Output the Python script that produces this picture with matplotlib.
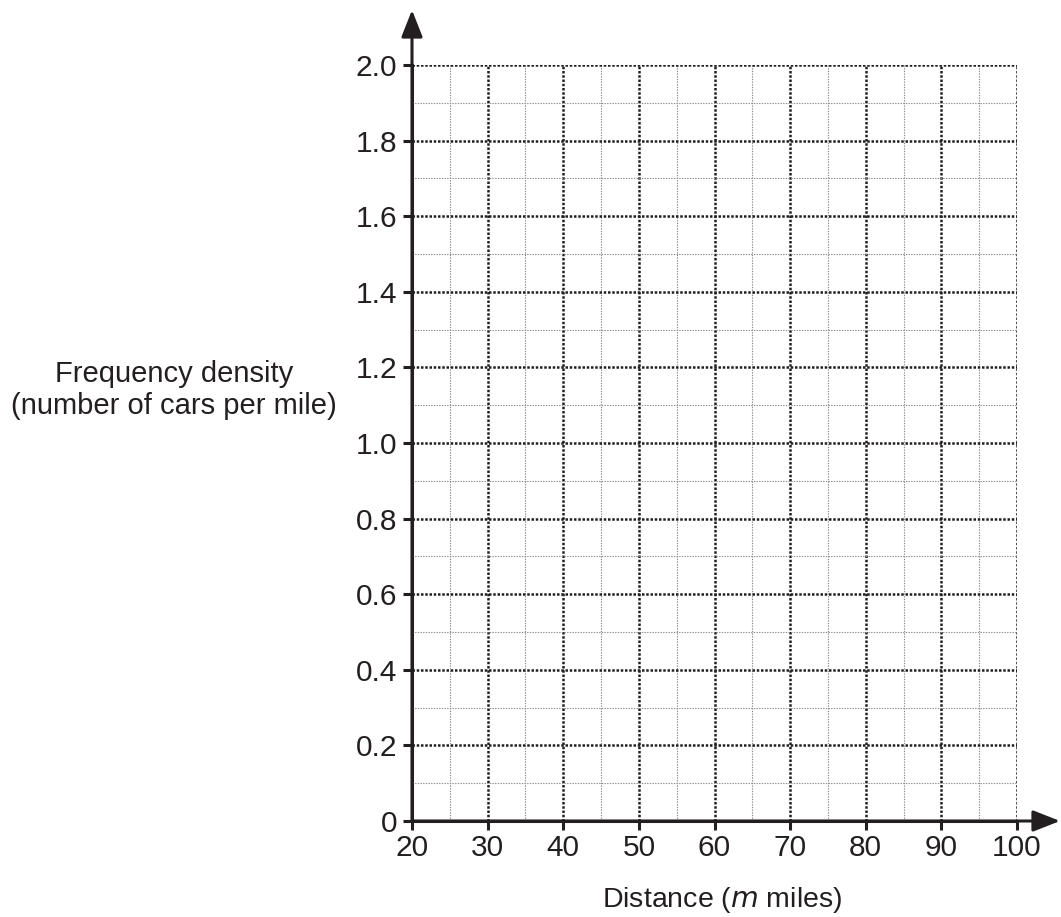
import matplotlib
matplotlib.use("Agg")
import matplotlib.pyplot as plt
import numpy as np
from matplotlib.ticker import MultipleLocator

plt.rcParams['font.family'] = ['Liberation Sans', 'DejaVu Sans']

x_min, x_max = 20, 100
y_min, y_max = 0, 2.0
x_ticks = [20, 30, 40, 50, 60, 70, 80, 90, 100]
x_tick_labels = ['20', '30', '40', '50', '60', '70', '80', '90', '100']
y_ticks = [0, 0.2, 0.4, 0.6, 0.8, 1.0, 1.2, 1.4, 1.6, 1.8, 2.0]
y_tick_labels = ['0', '0.2', '0.4', '0.6', '0.8', '1.0', '1.2', '1.4', '1.6', '1.8', '2.0']
x_label = 'Distance ($\\it{m}$ miles)'
y_label = 'Frequency density\n(number of cars per mile)'

W, H = 1061, 917
fig = plt.figure(figsize=(W/100, H/100), dpi=100)
left, right, bottom, top = 412, 1017, 821, 65
ax = fig.add_axes([left/W, 1-bottom/H, (right-left)/W, (bottom-top)/H])
ax.set_xlim(x_min, x_max)
ax.set_ylim(y_min, y_max)

ax.set_xticks(x_ticks)
ax.set_xticklabels(x_tick_labels)
ax.set_yticks(y_ticks)
ax.set_yticklabels(y_tick_labels)
ax.xaxis.set_minor_locator(MultipleLocator(5))
ax.yaxis.set_minor_locator(MultipleLocator(0.1))

col = '#231f20'
ax.grid(which='major', color=col, linestyle=(0, (1.0, 0.7)), linewidth=1.8)
ax.grid(which='minor', color='#8a8a8a', linestyle=(0, (1.2, 1.2)), linewidth=0.8)
ax.set_axisbelow(True)

for s in ['top', 'right']:
    ax.spines[s].set_visible(False)
for s in ['left', 'bottom']:
    ax.spines[s].set_linewidth(2.2)
    ax.spines[s].set_color(col)
    ax.spines[s].set_zorder(5)

ax.tick_params(which='major', direction='out', length=6.5, width=2.2, color=col,
               labelsize=21.5, labelcolor=col)
ax.tick_params(axis='y', which='major', pad=4)
ax.tick_params(axis='x', which='major', pad=3)
ax.tick_params(which='minor', length=0)

arrow_kw = dict(arrowstyle='-|>,head_length=1.65,head_width=0.65', lw=2.2,
                color=col, shrinkA=0, shrinkB=0, mutation_scale=10)
ax.annotate('', xy=((1060-left)/(right-left), 0), xytext=(0, 0),
            xycoords='axes fraction', textcoords='axes fraction',
            arrowprops=arrow_kw, annotation_clip=False, zorder=6)
ax.annotate('', xy=(0, (bottom-10)/(bottom-top)), xytext=(0, 0),
            xycoords='axes fraction', textcoords='axes fraction',
            arrowprops=arrow_kw, annotation_clip=False, zorder=6)

fig.text(174/W, 1-390/H, y_label, ha='center', va='center', fontsize=21,
         color=col, linespacing=1.2)
fig.text(722/W, 1-900/H, x_label, ha='center', va='center', fontsize=20.5, color=col)

fig.savefig('out.png', dpi=100)
